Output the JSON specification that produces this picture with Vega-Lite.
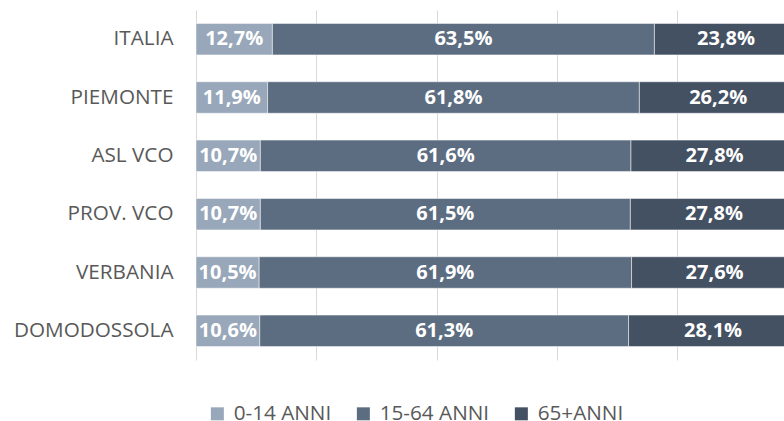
{
  "$schema": "https://vega.github.io/schema/vega-lite/v6.json",
  "width": 588,
  "height": 350,
  "autosize": {"type": "none"},
  "padding": {"left": 196, "top": 10, "right": 0, "bottom": 61},
  "background": "white",
  "config": {"view": {"stroke": null}},
  "data": {
    "values": [
      {"region": "ITALIA", "group": "0-14 ANNI", "value": 12.7, "label": "12,7%"},
      {"region": "ITALIA", "group": "15-64 ANNI", "value": 63.5, "label": "63,5%"},
      {"region": "ITALIA", "group": "65+ANNI", "value": 23.8, "label": "23,8%"},
      {"region": "PIEMONTE", "group": "0-14 ANNI", "value": 11.9, "label": "11,9%"},
      {"region": "PIEMONTE", "group": "15-64 ANNI", "value": 61.8, "label": "61,8%"},
      {"region": "PIEMONTE", "group": "65+ANNI", "value": 26.2, "label": "26,2%"},
      {"region": "ASL VCO", "group": "0-14 ANNI", "value": 10.7, "label": "10,7%"},
      {"region": "ASL VCO", "group": "15-64 ANNI", "value": 61.6, "label": "61,6%"},
      {"region": "ASL VCO", "group": "65+ANNI", "value": 27.8, "label": "27,8%"},
      {"region": "PROV. VCO", "group": "0-14 ANNI", "value": 10.7, "label": "10,7%"},
      {"region": "PROV. VCO", "group": "15-64 ANNI", "value": 61.5, "label": "61,5%"},
      {"region": "PROV. VCO", "group": "65+ANNI", "value": 27.8, "label": "27,8%"},
      {"region": "VERBANIA", "group": "0-14 ANNI", "value": 10.5, "label": "10,5%"},
      {"region": "VERBANIA", "group": "15-64 ANNI", "value": 61.9, "label": "61,9%"},
      {"region": "VERBANIA", "group": "65+ANNI", "value": 27.6, "label": "27,6%"},
      {"region": "DOMODOSSOLA", "group": "0-14 ANNI", "value": 10.6, "label": "10,6%"},
      {"region": "DOMODOSSOLA", "group": "15-64 ANNI", "value": 61.3, "label": "61,3%"},
      {"region": "DOMODOSSOLA", "group": "65+ANNI", "value": 28.1, "label": "28,1%"}
    ]
  },
  "encoding": {
    "y": {
      "field": "region",
      "type": "nominal",
      "sort": null,
      "scale": {"paddingInner": 0.46, "paddingOuter": 0.23},
      "axis": {
        "title": null,
        "ticks": false,
        "domain": false,
        "labelPadding": 23,
        "labelFont": "Open Sans",
        "labelFontSize": 20.7,
        "labelColor": "#595959",
        "labelLimit": 300
      }
    },
    "order": {"field": "group", "type": "ordinal", "sort": "ascending"}
  },
  "layer": [
    {
      "mark": {"type": "bar", "clip": true, "stroke": "#ffffff", "strokeWidth": 1, "strokeOpacity": 0.5},
      "encoding": {
        "x": {
          "field": "value",
          "type": "quantitative",
          "stack": "zero",
          "scale": {"domain": [0, 97.74], "nice": false, "zero": true},
          "axis": {
            "title": null,
            "labels": false,
            "ticks": false,
            "domain": false,
            "grid": true,
            "gridColor": "#D9D9D9",
            "gridWidth": 1,
            "values": [0, 20, 40, 60, 80]
          }
        },
        "color": {
          "field": "group",
          "type": "nominal",
          "scale": {
            "domain": ["0-14 ANNI", "15-64 ANNI", "65+ANNI"],
            "range": ["#98A7B9", "#5C6D81", "#445163"]
          },
          "legend": {
            "title": null,
            "orient": "none",
            "direction": "horizontal",
            "legendX": 11,
            "legendY": 393,
            "symbolType": "square",
            "symbolSize": 169,
            "symbolStrokeWidth": 0,
            "labelFont": "Open Sans",
            "labelFontSize": 20.7,
            "labelColor": "#595959",
            "labelOffset": 6,
            "columnPadding": 21
          }
        }
      }
    },
    {
      "mark": {
        "type": "text",
        "font": "Liberation Sans Narrow, Open Sans",
        "fontWeight": "bold",
        "fontSize": 20,
        "color": "#ffffff",
        "align": "center",
        "baseline": "middle"
      },
      "encoding": {
        "x": {"field": "value", "type": "quantitative", "stack": "zero", "bandPosition": 0.5},
        "detail": {"field": "group"},
        "text": {"field": "label"}
      }
    }
  ]
}
